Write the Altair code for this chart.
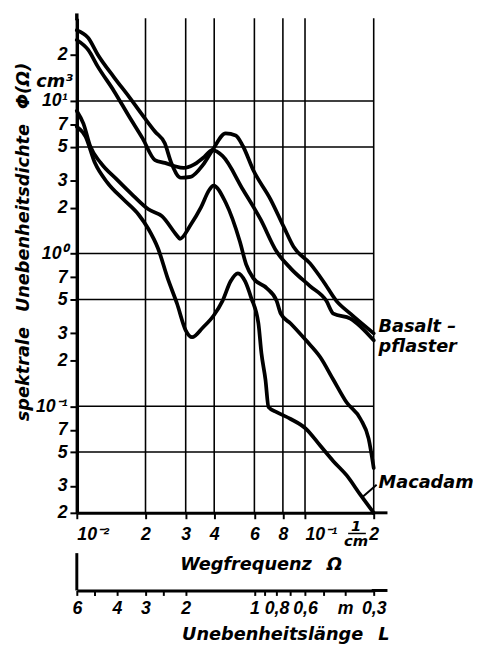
import altair as alt
import pandas as pd

# ---------------- data ----------------
# Wegfrequenz Omega [1/cm] and spectral density Phi [cm^3]
omega_basalt_1 = [0.0100, 0.01122, 0.01236, 0.01456, 0.01698, 0.0200, 0.0220, 0.0243, 0.02594, 0.02858,
                  0.0315, 0.0357, 0.0393, 0.0449, 0.0497, 0.0535, 0.0593, 0.0707, 0.0808, 0.0890,
                  0.1052, 0.1202, 0.1372, 0.158, 0.200]
phi_basalt_1 = [29.1, 25.9, 20.1, 14.3, 10.6, 7.6, 6.31, 5.28, 3.93, 3.14,
                3.18, 3.81, 4.76, 6.13, 5.95, 5.05, 3.53, 2.26, 1.49, 1.11,
                0.862, 0.659, 0.490, 0.404, 0.300]

omega_basalt_2 = [0.0100, 0.01122, 0.01236, 0.01456, 0.01698, 0.01942, 0.0220, 0.0243, 0.0267, 0.0294,
                  0.0324, 0.0357, 0.0393, 0.0435, 0.0535, 0.0638, 0.0751, 0.0865, 0.1052, 0.1240,
                  0.1331, 0.158, 0.200]
phi_basalt_2 = [25.1, 21.6, 16.8, 11.6, 7.88, 5.69, 4.10, 3.93, 3.75, 3.64,
                3.81, 4.23, 4.76, 4.36, 2.62, 1.68, 1.03, 0.80, 0.612, 0.490,
                0.404, 0.375, 0.270]

omega_macadam_1 = [0.0100, 0.01069, 0.01145, 0.01273, 0.0150, 0.01766, 0.0206, 0.0236, 0.0275, 0.0283,
                   0.0315, 0.0350, 0.0381, 0.0397, 0.0449, 0.0519, 0.0552, 0.0593, 0.0679, 0.0751,
                   0.0783, 0.0865, 0.101, 0.1165, 0.1331, 0.152, 0.175, 0.190, 0.200]
phi_macadam_1 = [8.61, 7.11, 5.05, 3.93, 3.05, 2.40, 1.95, 1.76, 1.31, 1.25,
                 1.54, 2.01, 2.62, 2.79, 2.16, 1.19, 0.85, 0.69, 0.594, 0.490,
                 0.404, 0.348, 0.270, 0.210, 0.149, 0.106, 0.0824, 0.0612, 0.0393]

omega_macadam_2 = [0.0100, 0.01091, 0.0120, 0.01361, 0.01603, 0.01871, 0.0206, 0.0227, 0.0250, 0.0275,
                   0.0300, 0.0320, 0.0357, 0.0398, 0.0435, 0.0472, 0.0508, 0.0546, 0.0581, 0.0625,
                   0.0644, 0.0671, 0.0692, 0.0751, 0.0865, 0.101, 0.1165, 0.1331, 0.152, 0.175, 0.200]
phi_macadam_2 = [6.79, 5.86, 3.93, 2.92, 2.26, 1.79, 1.45, 1.08, 0.69, 0.469,
                 0.314, 0.283, 0.328, 0.393, 0.490, 0.659, 0.743, 0.659, 0.513, 0.348,
                 0.223, 0.149, 0.0986, 0.0914, 0.0824, 0.0711, 0.0552, 0.0436, 0.0353, 0.0262, 0.0200]

# axis ticks / labels
x_ticks = [0.01, 0.02, 0.03, 0.04, 0.06, 0.08, 0.1, 0.2]
x_labels = ["10⁻²", "2", "3", "4", "6", "8", "10⁻¹", "2"]
x_grid = [0.02, 0.03, 0.04, 0.06, 0.08, 0.1, 0.2]

y_ticks = [20, 10, 7, 5, 3, 2, 1, 0.7, 0.5, 0.3, 0.2, 0.1, 0.07, 0.05, 0.03, 0.02]
y_labels = ["2", "10¹", "7", "5", "3", "2", "10⁰", "7", "5", "3", "2", "10⁻¹", "7", "5", "3", "2"]
y_grid = [10, 5, 1, 0.5, 0.1, 0.05]

# second scale: Unebenheitslänge L [m]; on the drawn scale L = 1 m sits at Omega = 0.06 1/cm
L_ticks = [6, 5, 4, 3, 2.5, 2, 1, 0.9, 0.8, 0.7, 0.6, 0.5, 0.4, 0.3]
L_labels = ["6", "", "4", "3", "", "2", "1", "", "0,8", "", "0,6\u2002", "", "m\u2002\u2002", "0,3"]
L_at_one_metre = 0.06

# curve labels
label_text = ["Basalt –", "pflaster", "Macadam"]
label_omega = [0.2, 0.2, 0.2]
label_phi = [0.305, 0.228, 0.0292]

# leader line to "Macadam"
leader_omega = [0.177, 0.206]
leader_phi = [0.0251, 0.0305]

# ---------------- build ----------------
NUM_FONT = "Liberation Sans"
TXT_FONT = "DejaVu Sans"


def label_expr(values, labels):
    parts = [f"abs(datum.value - {v}) < {v}*1e-6 ? '{l}' : " for v, l in zip(values, labels)]
    return "".join(parts) + "''"


rows = []
for name, om, ph in [("Basaltpflaster 1", omega_basalt_1, phi_basalt_1),
                     ("Basaltpflaster 2", omega_basalt_2, phi_basalt_2),
                     ("Macadam 1", omega_macadam_1, phi_macadam_1),
                     ("Macadam 2", omega_macadam_2, phi_macadam_2)]:
    for o, p in zip(om, ph):
        rows.append({"series": name, "omega": o, "phi": p})
curves_df = pd.DataFrame(rows)

L_pos = [L_at_one_metre / L for L in L_ticks]

xscale = alt.Scale(type="log", domain=[0.01, 0.2], nice=False)
yscale = alt.Scale(type="log", domain=[0.02, 34.8], nice=False)

num_label = dict(labelFont=NUM_FONT, labelFontSize=18, labelFontStyle="italic", labelFontWeight="bold",
                 labelColor="black", labelOverlap=False, labelFlush=False, labelBound=False)
txt_title = dict(titleFont=TXT_FONT, titleFontSize=18, titleFontStyle="italic", titleFontWeight="bold",
                 titleColor="black")

x_axis = alt.Axis(
    orient="bottom", values=x_ticks, labelExpr=label_expr(x_ticks, x_labels), grid=False,
    labelAlign={"condition": {"test": "datum.value < 0.0101 || (datum.value > 0.099 && datum.value < 0.101)",
                              "value": "left"}, "value": "center"},
    labelPadding=7, tickSize=6, tickWidth=2, tickColor="black", domainWidth=3, domainColor="black",
    title="Wegfrequenz\u2002 Ω", titleX=187, titleY=58, titleAlign="center", titleBaseline="alphabetic",
    **num_label, **txt_title,
)
y_axis = alt.Axis(
    orient="left", values=y_ticks, labelExpr=label_expr(y_ticks, y_labels), grid=False,
    labelPadding=3, labelBaseline="middle",
    tickSize=7, tickWidth=2, tickColor="black", domainWidth=3.5, domainColor="black",
    title="spektrale\u2002 Unebenheitsdichte\u2002 Φ(Ω)",
    titleX=-54, titleY=227, titleAlign="center", titleBaseline="middle", titleAngle=270,
    **num_label, **txt_title,
)
L_axis = alt.Axis(
    orient="bottom", offset=79, values=L_pos, labelExpr=label_expr(L_pos, L_labels), grid=False,
    labelPadding=4, tickSize=5, tickWidth=2, tickColor="black", domainWidth=3, domainColor="black",
    title="Unebenheitslänge\u2002 L", titleX=212, titleY=50, titleAlign="center", titleBaseline="alphabetic",
    **num_label, **txt_title,
)

hgrid = alt.Chart(pd.DataFrame({"g": y_grid})).mark_rule(color="black", strokeWidth=1.5).encode(
    y=alt.Y("g:Q", scale=yscale, axis=None))
vgrid = alt.Chart(pd.DataFrame({"g": x_grid})).mark_rule(color="black", strokeWidth=1.6).encode(
    x=alt.X("g:Q", scale=xscale, axis=None))

curves = alt.Chart(curves_df).mark_line(color="black", strokeWidth=3.8, interpolate="monotone",
                                        strokeJoin="round", strokeCap="round").encode(
    x=alt.X("omega:Q", scale=xscale, axis=x_axis),
    y=alt.Y("phi:Q", scale=yscale, axis=y_axis),
    detail="series:N",
)

L_layer = alt.Chart(pd.DataFrame({"Lpos": L_pos})).mark_point(opacity=0).encode(
    x=alt.X("Lpos:Q", scale=xscale, axis=L_axis),
    y=alt.value(0),
)

leader = alt.Chart(pd.DataFrame({"omega": leader_omega, "phi": leader_phi})).mark_line(
    color="black", strokeWidth=2).encode(
    x=alt.X("omega:Q", scale=xscale, axis=None),
    y=alt.Y("phi:Q", scale=yscale, axis=None),
)

labels = alt.Chart(pd.DataFrame({"t": label_text, "omega": label_omega, "phi": label_phi})).mark_text(
    align="left", baseline="alphabetic", dx=5, font=TXT_FONT, fontSize=18, fontStyle="italic",
    fontWeight="bold", color="black").encode(
    x=alt.X("omega:Q", scale=xscale, axis=None),
    y=alt.Y("phi:Q", scale=yscale, axis=None),
    text="t:N",
)

unit_style = dict(font=TXT_FONT, fontStyle="italic", fontWeight="bold", color="black")
cm3 = alt.Chart(pd.DataFrame({"t": ["cm³"]})).mark_text(
    align="right", baseline="alphabetic", fontSize=18, **unit_style).encode(
    text="t:N", x=alt.value(-4), y=alt.value(70))
one = alt.Chart(pd.DataFrame({"t": ["1"]})).mark_text(
    align="center", baseline="middle", fontSize=15, **unit_style).encode(
    text="t:N", x=alt.value(284), y=alt.value(516))
cm = alt.Chart(pd.DataFrame({"t": ["cm"]})).mark_text(
    align="center", baseline="middle", fontSize=15, **unit_style).encode(
    text="t:N", x=alt.value(284), y=alt.value(532))
frac_bar = alt.Chart(pd.DataFrame({"t": [1]})).mark_rule(color="black", strokeWidth=1.5).encode(
    x=alt.value(276), x2=alt.value(294), y=alt.value(524))

# extensions of the drawn axis lines
x_ext = alt.Chart(pd.DataFrame({"t": [1]})).mark_rule(color="black", strokeWidth=3).encode(
    x=alt.value(300), x2=alt.value(316), y=alt.value(503))
L_ext = alt.Chart(pd.DataFrame({"t": [1]})).mark_rule(color="black", strokeWidth=3).encode(
    x=alt.value(300), x2=alt.value(316), y=alt.value(582))
L_vline = alt.Chart(pd.DataFrame({"t": [1]})).mark_rule(color="black", strokeWidth=3).encode(
    x=alt.value(0), y=alt.value(544), y2=alt.value(582))
y_ext = alt.Chart(pd.DataFrame({"t": [1]})).mark_rule(color="black", strokeWidth=3.5).encode(
    x=alt.value(0), y=alt.value(-5), y2=alt.value(2))

chart = alt.layer(
    hgrid, vgrid, curves, L_layer, leader, labels, cm3, one, cm, frac_bar, x_ext, L_ext, L_vline, y_ext
).resolve_axis(x="independent", y="independent").properties(
    width=302, height=503,
    autosize=alt.AutoSizeParams(type="none"),
    padding={"left": 70, "top": 5, "right": 101, "bottom": 133},
    background="white",
).configure_view(stroke=None)

chart.save("out.html", embed_options={"renderer": "svg", "actions": False})
